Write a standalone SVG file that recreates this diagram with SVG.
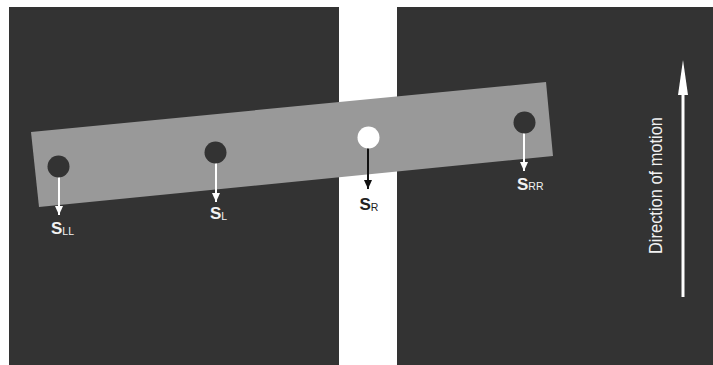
<svg xmlns="http://www.w3.org/2000/svg" width="713" height="365" viewBox="0 0 713 365">
<style>
.dark{fill:#333333}
.band{fill:#999999}
.dot{fill:#333333}
.wline{stroke:#ffffff;stroke-width:2;fill:none}
.bline{stroke:#111111;stroke-width:2;fill:none}
.lbl{font-family:"Liberation Sans",Arial,sans-serif;font-size:17px;font-weight:bold}
.sub{font-size:10.5px;font-weight:normal}
.wt{fill:#f2f2f2}
.bt{fill:#222222}
</style>
<defs>
<marker id="wh" markerWidth="4.5" markerHeight="4" refX="4.5" refY="2" orient="auto" markerUnits="strokeWidth">
<path d="M0,0 L4.5,2 L0,4 Z" fill="#ffffff"/>
</marker>
<marker id="bh" markerWidth="4.5" markerHeight="4" refX="4.5" refY="2" orient="auto" markerUnits="strokeWidth">
<path d="M0,0 L4.5,2 L0,4 Z" fill="#111111"/>
</marker>
</defs>
<rect width="713" height="365" fill="#ffffff"/>
<g id="background">
<rect class="dark" x="9" y="7" width="330" height="358"/>
<rect class="dark" x="397" y="7" width="316" height="358"/>
</g>
<g id="bar">
<polygon class="band" points="31,132 546,82 553,156 39,207"/>
</g>
<g id="connectors">
<line class="wline" x1="59" y1="177" x2="59" y2="215" marker-end="url(#wh)"/>
<line class="wline" x1="216" y1="163" x2="216" y2="202" marker-end="url(#wh)"/>
<line class="bline" x1="368" y1="148" x2="368" y2="189" marker-end="url(#bh)"/>
<line class="wline" x1="524" y1="133" x2="524" y2="171" marker-end="url(#wh)"/>
</g>
<g id="sLL">
<circle class="dot" cx="58.5" cy="166.5" r="11"/>
<text class="lbl wt" x="51" y="234">S<tspan class="sub" dy="1">LL</tspan></text>
</g>
<g id="sL">
<circle class="dot" cx="215.5" cy="152.5" r="11"/>
<text class="lbl wt" x="210" y="219">S<tspan class="sub" dy="1">L</tspan></text>
</g>
<g id="sR">
<circle cx="368.5" cy="137.5" r="11" fill="#ffffff"/>
<text class="lbl bt" x="359.5" y="210">S<tspan class="sub" dy="1">R</tspan></text>
</g>
<g id="sRR">
<circle class="dot" cx="524.5" cy="122.5" r="11"/>
<text class="lbl wt" x="517" y="190">S<tspan class="sub" dy="0">RR</tspan></text>
</g>
<g id="direction">
<line x1="683" y1="297" x2="683" y2="88" stroke="#ffffff" stroke-width="3"/>
<polygon points="683,60 688,95 678,95" fill="#ffffff"/>
<text class="wt" transform="translate(662,254) rotate(-90)" font-family="Liberation Sans,Arial,sans-serif" font-size="18" textLength="137" lengthAdjust="spacingAndGlyphs">Direction of motion</text>
</g>
</svg>
